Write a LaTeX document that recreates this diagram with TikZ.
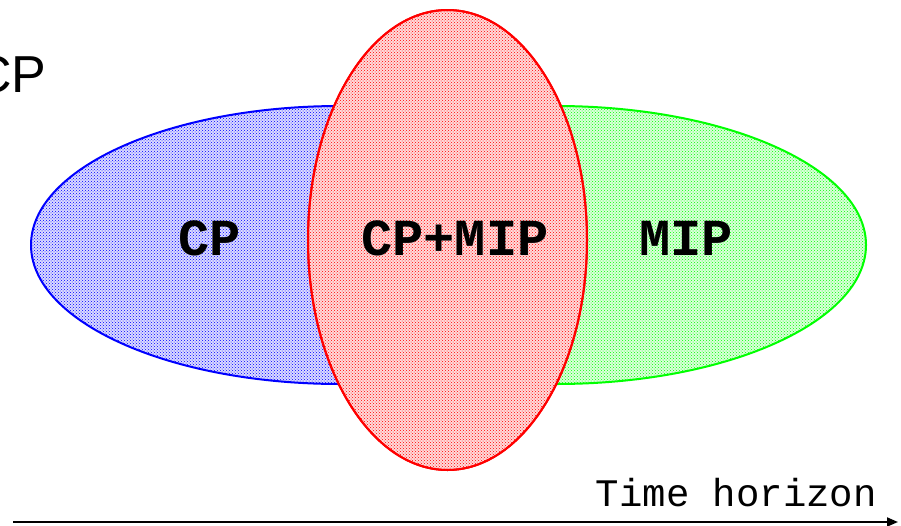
\documentclass[tikz,border=0pt]{standalone}
\usepackage{fontspec}
\setmainfont{Liberation Sans}
\newfontfamily\courierfont{Liberation Mono}
\usetikzlibrary{patterns,arrows.meta}
\begin{document}
\begin{tikzpicture}[x=1pt,y=-1pt,
  setline/.style={line width=2pt},
  setlabel/.style={font=\courierfont\bfseries\fontsize{52}{52}\selectfont, anchor=base, inner sep=0pt}]

  \useasboundingbox (0,0) rectangle (901,525);

  \path (340,245) coordinate (B) (556,245) coordinate (G) (447.5,240) coordinate (R);

	% left set, only its left half shows
	\begin{scope}
	  \clip (0,0) rectangle (447,525);
	  \fill[blue!14] (B) ellipse [x radius=309pt, y radius=139pt];
	  \draw[setline, draw=blue, pattern=crosshatch dots, pattern color=blue] (B) ellipse [x radius=309pt, y radius=139pt];
	\end{scope}

	% right set
	\begin{scope}
	  \clip (447,0) rectangle (901,525);
	  \fill[green!14] (G) ellipse [x radius=310pt, y radius=139pt];
	  \draw[setline, draw=green, pattern=crosshatch dots, pattern color=green] (G) ellipse [x radius=310pt, y radius=139pt];
	\end{scope}

	% middle set on top
	\draw[setline, draw=red, fill=red!14] (R) ellipse [x radius=139.5pt, y radius=230pt];
	\draw[setline, draw=red, pattern=crosshatch dots, pattern color=red] (R) ellipse [x radius=139.5pt, y radius=230pt];

	\node[setlabel] (cp) at (210,255) {CP};
	\node[setlabel] (cpmip) at (455,255) {CP+MIP};
	\node[setlabel] (mip) at (686,255) {MIP};

	\node[anchor=base west, inner sep=0pt, font=\fontsize{52}{52}\selectfont] (title) at (-26,92) {CP};

	% time axis
	\coordinate (t0) at (13,522);
	\coordinate (t1) at (898,522);
	\draw[line width=2pt, -{Triangle[length=11pt,width=9pt]}] (t0) -- (t1);
	\node[anchor=base east, inner sep=0pt, font=\courierfont\fontsize{39}{39}\selectfont] (time) at (877,506) {Time horizon};

\end{tikzpicture}
\end{document}
